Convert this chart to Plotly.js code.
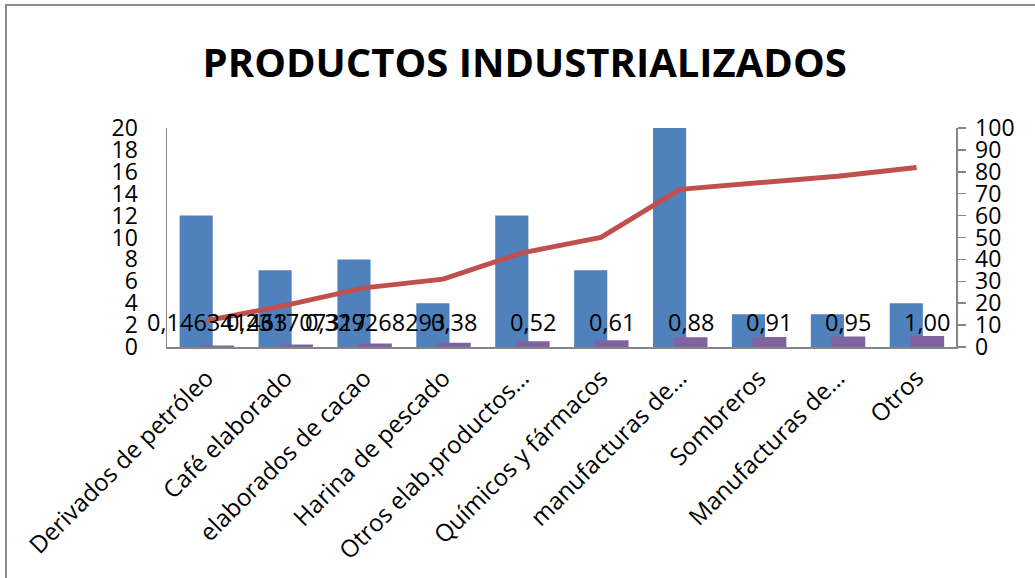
<!DOCTYPE html>
<html>
<head>
<meta charset="utf-8">
<script src="https://cdn.plot.ly/plotly-3.0.1.min.js"></script>
<style>
  html, body { margin: 0; padding: 0; background: #fff; }
  #wrap { position: relative; width: 1035px; height: 578px; overflow: hidden; }
  #chart { position: absolute; left: 0; top: 0; width: 1035px; height: 578px; }
  #frame { position: absolute; left: 5px; top: 4px; width: 1100px; height: 700px;
           border-left: 2px solid #8c8c8c; border-top: 2px solid #8c8c8c; pointer-events: none; }
</style>
</head>
<body>
<div id="wrap"><div id="chart"></div><div id="frame"></div></div>
<script>
const categories = ["Derivados de petróleo", "Café elaborado", "elaborados de cacao", "Harina de pescado",
  "Otros elab.productos…", "Químicos y fármacos", "manufacturas de…", "Sombreros", "Manufacturas de…", "Otros"];
const frecuencia = [12, 7, 8, 4, 12, 7, 22, 3, 3, 4];
const acumulado = [12, 19, 27, 31, 43, 50, 72, 75, 78, 82];
const proporcionAcumulada = [0.146341463, 0.231707317, 0.329268293, 0.38, 0.52, 0.61, 0.88, 0.91, 0.95, 1.00];
const etiquetas = ["0,146341463", "0,231707317", "0,329268293", "0,38", "0,52", "0,61", "0,88", "0,91", "0,95", "1,00"];
const leftTicks = [0, 2, 4, 6, 8, 10, 12, 14, 16, 18, 20];
const rightTicks = [0, 10, 20, 30, 40, 50, 60, 70, 80, 90, 100];

const idx = categories.map((c, i) => i);
const FONT = "Open Sans, Lato, sans-serif";
const LABEL_Y = 2.27;

const traces = [
  { type: "bar", x: idx, y: frecuencia, width: 0.42, offset: -0.34,
    marker: { color: "#4F81BD" }, hoverinfo: "y", name: "Frecuencia" },
  { type: "bar", x: idx, y: proporcionAcumulada, width: 0.43, offset: -0.08,
    marker: { color: "#8064A2" }, hoverinfo: "y", name: "Proporción" },
  { type: "scatter", mode: "lines", x: idx, y: acumulado, yaxis: "y2",
    line: { color: "#C0504D", width: 5 }, name: "Acumulado" }
];

const annotations = etiquetas.map((t, i) => ({
  x: i + 0.135, y: LABEL_Y, xref: "x", yref: "y", text: t, showarrow: false,
  font: { family: FONT, size: 23.5, color: "#000" }, xanchor: "center", yanchor: "middle"
}));

const layout = {
  width: 1035, height: 578,
  margin: { l: 167, r: 79, t: 128, b: 231 },
  paper_bgcolor: "rgba(0,0,0,0)", plot_bgcolor: "rgba(0,0,0,0)",
  showlegend: false, barmode: "overlay",
  title: { text: "<b>PRODUCTOS INDUSTRIALIZADOS</b>", x: 0.507, xanchor: "center",
    y: 1 - 63 / 578, yanchor: "middle",
    font: { family: FONT, size: 40, color: "#000" } },
  xaxis: {
    range: [-0.5, 9.5], tickmode: "array", tickvals: idx, ticktext: categories,
    tickangle: -45, showgrid: false, zeroline: false, showline: true,
    linecolor: "#868686", linewidth: 1.5, ticks: "", ticklabelstandoff: 6,
    tickfont: { family: FONT, size: 24, color: "#000" }
  },
  yaxis: {
    range: [0, 20], tickmode: "array", tickvals: leftTicks, showgrid: false, zeroline: false,
    showline: true, linecolor: "#868686", linewidth: 1.5, ticks: "", ticklabelstandoff: 23,
    tickfont: { family: FONT, size: 23, color: "#000" }
  },
  yaxis2: {
    range: [0, 100], overlaying: "y", side: "right", tickmode: "array", tickvals: rightTicks,
    showgrid: false, zeroline: false, showline: true, linecolor: "#868686", linewidth: 1.5,
    ticks: "outside", ticklen: 8, tickcolor: "#868686", tickwidth: 1.5, ticklabelstandoff: 5,
    tickfont: { family: FONT, size: 23, color: "#000" }
  },
  annotations: annotations
};

Plotly.newPlot("chart", traces, layout, { displayModeBar: false, staticPlot: true });
</script>
</body>
</html>
